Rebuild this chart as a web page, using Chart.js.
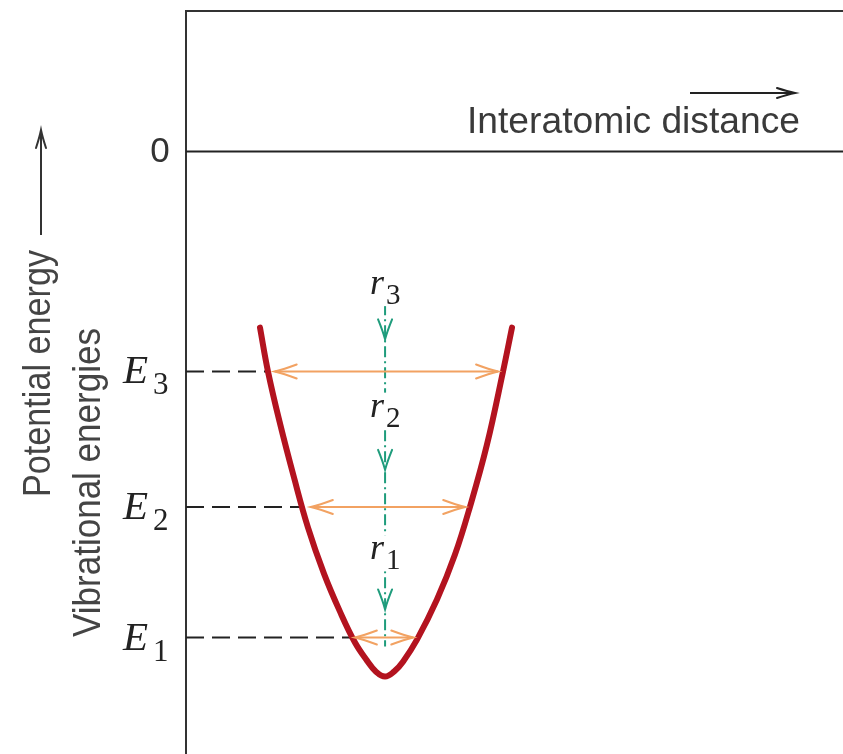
<!DOCTYPE html>
<html>
<head>
<meta charset="utf-8" />
<title>Vibrational energies</title>
<style>
  body { margin: 0; background: #fff; }
  #wrap { width: 843px; height: 754px; }
</style>
<script src="https://cdn.jsdelivr.net/npm/chart.js"></script>
</head>
<body>
<div id="wrap"><canvas id="chart" width="843" height="754"></canvas></div>
<script>
// potential energy curve (interatomic distance, energy)
const curveX = [1.126, 1.248, 1.431, 1.644, 1.857, 2.100, 2.344, 2.572, 2.755, 2.892, 3.029, 3.166, 3.303, 3.516, 3.820, 4.094, 4.323, 4.581, 4.825, 4.962];
const curveY = [-1.753, -2.191, -2.709, -3.247, -3.745, -4.203, -4.582, -4.890, -5.070, -5.180, -5.229, -5.180, -5.080, -4.861, -4.462, -4.014, -3.536, -2.918, -2.191, -1.753];

// vibrational levels E1, E2, E3
const levelNames = ['1', '2', '3'];
const levelY = [-4.84, -3.54, -2.19];
const levelLeftX = [2.50, 1.78, 1.25];
const arrowLeftX = [2.57, 1.90, 1.35];
const arrowRightX = [3.46, 4.25, 4.75];

// mean separation r1, r2, r3
const rX = 3.03;
const rLineY = [-1.52, -4.93];
const rTipY = [-4.56, -3.17, -1.87];
const rLabelY = [-4.06, -2.64, -1.42];

const xRange = [0, 10];
const yRange = [-6, 1.4];

const RED = '#b3131f', ORANGE = '#f2a262', GREEN = '#1f9c7c', INK = '#222';

function arrowHead(ctx, x, y, ang, len, half, color, lw) {
    ctx.save();
    ctx.strokeStyle = color;
    ctx.lineWidth = lw;
    ctx.lineCap = 'round';
    ctx.translate(x, y);
    ctx.rotate(ang);
    ctx.beginPath();
    ctx.moveTo(-len, -half);
    ctx.quadraticCurveTo(-len * 0.4, -half * 0.3, 0, 0);
    ctx.quadraticCurveTo(-len * 0.4, half * 0.3, -len, half);
    ctx.stroke();
    ctx.restore();
}

function fitText(ctx, text, x, y, width, font, color, rot) {
    ctx.save();
    ctx.font = font;
    ctx.fillStyle = color;
    ctx.textAlign = 'left';
    ctx.textBaseline = 'alphabetic';
    const w = ctx.measureText(text).width;
    ctx.translate(x, y);
    if (rot) ctx.rotate(rot);
    ctx.scale(width / w, 1);
    ctx.fillText(text, 0, 0);
    ctx.restore();
}

const decor = {
    id: 'decor',
    afterDatasetsDraw(chart) {
        const ctx = chart.ctx;
        const xs = chart.scales.x, ys = chart.scales.y;

        // orange arrowheads
        levelY.forEach((v, i) => {
            const py = ys.getPixelForValue(v);
            arrowHead(ctx, xs.getPixelForValue(arrowLeftX[i]), py, Math.PI, 22, 7, ORANGE, 2);
            arrowHead(ctx, xs.getPixelForValue(arrowRightX[i]), py, 0, 22, 7, ORANGE, 2);
        });

        // green arrowheads
        const gx = xs.getPixelForValue(rX);
        rTipY.forEach(v => arrowHead(ctx, gx, ys.getPixelForValue(v), Math.PI / 2, 20, 7, GREEN, 2));

        // r labels with white knockout
        rLabelY.forEach((v, i) => {
            const py = ys.getPixelForValue(v);
            ctx.save();
            ctx.fillStyle = '#fff';
            ctx.fillRect(gx - 18, py - 24, 40, 36);
            ctx.fillStyle = INK;
            ctx.textBaseline = 'alphabetic';
            ctx.textAlign = 'left';
            ctx.font = 'italic 36px "Liberation Serif"';
            ctx.fillText('r', gx - 15, py);
            ctx.font = '29px "Liberation Serif"';
            ctx.fillText(levelNames[i], gx + 1, py + 10);
            ctx.restore();
        });
    },
    afterDraw(chart) {
        const ctx = chart.ctx;
        const xs = chart.scales.x, ys = chart.scales.y;
        const left = xs.left;

        // zero label
        ctx.save();
        ctx.fillStyle = '#333';
        ctx.font = '35px "Liberation Sans"';
        ctx.textAlign = 'center';
        ctx.textBaseline = 'middle';
        ctx.fillText('0', left - 26, ys.getPixelForValue(0) + 1);
        ctx.restore();

        // E labels
        levelY.forEach((v, i) => {
            const py = ys.getPixelForValue(v);
            ctx.save();
            ctx.fillStyle = INK;
            ctx.textAlign = 'left';
            ctx.textBaseline = 'alphabetic';
            ctx.font = 'italic 41px "Liberation Serif"';
            ctx.fillText('E', left - 63, py + 12);
            ctx.font = '31px "Liberation Serif"';
            ctx.fillText(levelNames[i], left - 33, py + 23);
            ctx.restore();
        });

        // x axis caption and arrow
        fitText(ctx, 'Interatomic distance', 467, 133, 333, '37px "Liberation Sans"', '#3a3a3a');
        ctx.save();
        ctx.strokeStyle = '#222';
        ctx.lineWidth = 2;
        ctx.beginPath();
        ctx.moveTo(690, 93);
        ctx.lineTo(795, 93);
        ctx.stroke();
        ctx.restore();
        arrowHead(ctx, 795, 93, 0, 18, 5, '#222', 2);

        // y axis captions and arrow
        fitText(ctx, 'Potential energy', 50, 497, 247, '38px "Liberation Sans"', '#444', -Math.PI / 2);
        fitText(ctx, 'Vibrational energies', 100, 637, 309, '38px "Liberation Sans"', '#444', -Math.PI / 2);
        ctx.save();
        ctx.strokeStyle = '#333';
        ctx.lineWidth = 2;
        ctx.beginPath();
        ctx.moveTo(41, 235);
        ctx.lineTo(41, 131);
        ctx.stroke();
        ctx.restore();
        arrowHead(ctx, 41, 130, -Math.PI / 2, 18, 5, '#333', 2);
    }
};

const line = (data, color, width, dash) => ({
    data, showLine: true, borderColor: color, borderWidth: width,
    borderDash: dash || [], pointRadius: 0, fill: false
});

const datasets = [];
const curve = line(curveX.map((x, i) => ({ x, y: curveY[i] })), RED, 6);
curve.tension = 0.4;
curve.borderCapStyle = 'round';
curve.borderJoinStyle = 'round';
datasets.push(curve);
levelY.forEach((v, i) => {
    datasets.push(line([{ x: arrowLeftX[i], y: v }, { x: arrowRightX[i], y: v }], ORANGE, 2));
});
datasets.push(line([{ x: rX, y: rLineY[0] }, { x: rX, y: rLineY[1] }], GREEN, 2, [11, 4, 2, 4]));
levelY.forEach((v, i) => {
    datasets.push(line([{ x: xRange[0], y: v }, { x: levelLeftX[i], y: v }], INK, 2, [18, 8]));
});
datasets.push(line([{ x: xRange[0], y: 0 }, { x: xRange[1], y: 0 }], INK, 2));

new Chart(document.getElementById('chart'), {
    type: 'scatter',
    data: { datasets },
    options: {
        responsive: false,
        animation: false,
        layout: { padding: { left: 186, top: 11, right: 0, bottom: 0 } },
        plugins: { legend: { display: false }, tooltip: { enabled: false } },
        scales: {
            x: {
                type: 'linear', position: 'top', min: xRange[0], max: xRange[1],
                grid: { display: false, drawTicks: false },
                ticks: { display: false },
                border: { display: true, color: '#333', width: 2 }
            },
            y: {
                type: 'linear', min: yRange[0], max: yRange[1],
                grid: { display: false, drawTicks: false },
                ticks: { display: false },
                border: { display: true, color: '#333', width: 2 }
            }
        }
    },
    plugins: [decor]
});
</script>
</body>
</html>
